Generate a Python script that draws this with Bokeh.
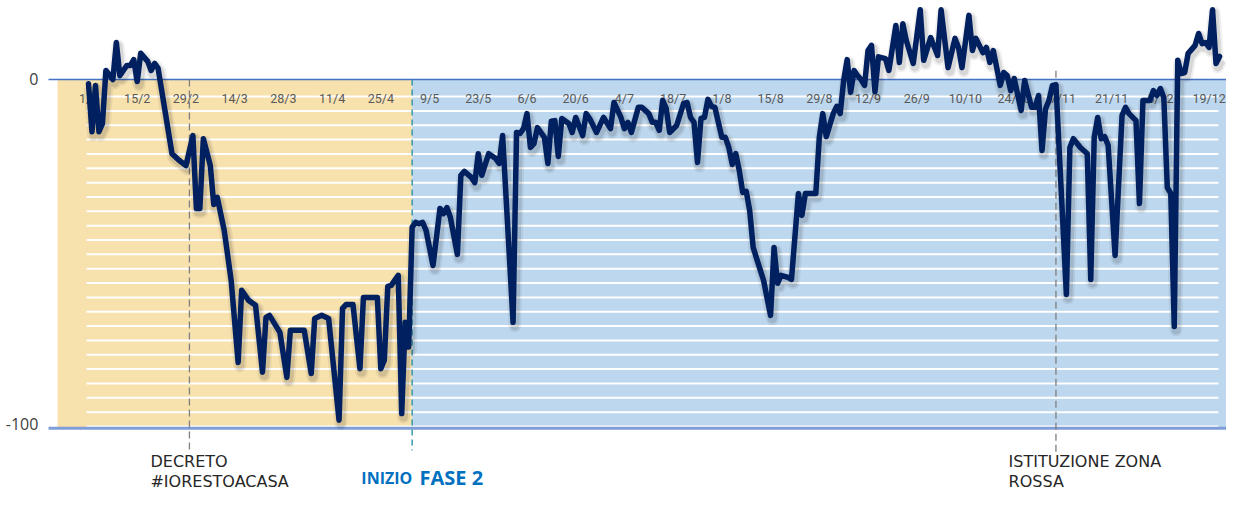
import datetime as dt
import numpy as np
from bokeh.plotting import figure
from bokeh.models import Range1d
from bokeh.core.properties import value
from bokeh.embed import file_html
from bokeh.resources import INLINE

# ---------------- data ----------------
start = dt.date(2020, 2, 1)
# day offsets from 1 Feb 2020
days = [0, 1, 2, 3, 4, 5, 7, 8, 9, 11, 12, 13, 14, 15, 17, 18, 19, 20, 24, 26, 28,
        30, 31, 32, 33, 35, 36, 37, 39, 41, 43, 44, 46, 48, 50, 51, 52, 55, 57, 58,
        62, 64, 65, 67, 69, 72, 73, 74, 76, 78, 79, 83, 84, 85, 86, 87, 89, 90, 91,
        92, 93, 94, 95, 96, 97, 99, 101, 102, 103, 104, 106, 107, 108, 110, 111, 112,
        113, 115, 117, 118, 119, 122, 123, 124, 125, 126, 127, 128, 129, 131, 132,
        133, 134, 135, 136, 138, 139, 140, 142, 143, 144, 146, 148, 150, 151, 153,
        154, 155, 156, 158, 159, 161, 162, 163, 164, 165, 166, 167, 169, 171, 172,
        173, 174, 175, 176, 177, 178, 179, 180, 182, 183, 184, 185, 186, 187, 188,
        189, 190, 191, 192, 194, 196, 197, 198, 199, 201, 202, 204, 205, 206, 209,
        210, 211, 212, 214, 215, 216, 217, 218, 219, 220, 221, 222, 223, 224, 225,
        226, 227, 229, 230, 232, 233, 234, 235, 237, 239, 240, 242, 244, 245, 247,
        249, 250, 251, 253, 254, 255, 257, 258, 259, 260, 262, 263, 264, 265, 266,
        268, 269, 271, 272, 273, 274, 275, 276, 277, 278, 281, 282, 283, 285, 287,
        288, 289, 290, 291, 292, 293, 295, 297, 298, 299, 301, 302, 303, 305, 306,
        307, 308, 309, 310, 311, 312, 313, 314, 315, 316, 318, 319, 320, 321, 322,
        323, 324, 325]
values = [-1.2, -15, -1.7, -15, -12.7, 2.6, 0, 10.6, 1.1, 4, 4, 5.7, -0.6, 7.5, 5.2, 2.6, 4.6, 3.2, -21.3, -23.2, -24.7,
          -16.1, -37, -37, -17, -24.7, -35.9, -33.8, -43.3, -57.7, -81.2, -60.5, -63.4, -64.8, -84, -68.3, -67.7, -72.6, -85.5, -72,
          -72, -84.4, -68.6, -67.7, -68.6, -97.8, -65.7, -64.6, -64.6, -83, -62.6, -62.6, -83, -80.6, -59.4, -59.1, -56.2, -95.9, -69.7,
          -76.8, -42.4, -41, -41.4, -41, -43.3, -53.4, -37, -38.5, -36.8, -39.6, -50.2, -27.5, -26.4, -28.1, -29.6, -21.3,
          -27.5, -21.3, -22.7, -24.1, -16.1, -69.7, -15.2, -15.5, -14.1, -9.8, -19.5, -18.4, -13.8, -16.6, -24.1,
          -12, -11.8, -22.1, -11.2, -12.6, -15.2, -10.9, -16.1, -9.8, -11.2, -15.2, -10.9, -14.1, -6.6, -10.9,
          -14.1, -12.3, -15.2, -8, -8, -9.8, -12.3, -12.3, -14.6, -6, -8.3, -15.2, -13.2, -6.9, -6.6,
          -10.9, -12.3, -23.8, -11.2, -10.9, -5.7, -7.7, -8, -16.6, -16.6, -19.5, -24.4, -21.3, -26.1, -32.4,
          -32.1, -37.6, -48.2, -51.4, -57.7, -67.7, -48.2, -58.5, -56.2, -56.8, -57.4, -32.7, -39, -32.7, -32.7,
          -16.6, -9.8, -16.4, -9.8, -7.7, -9.8, -0.3, 5.7, -3.7, 2.6, 1.1, 0, -1.7, 8.3, 9.8,
          -3.5, 6.5, 6, 2.6, 15.5, 4.9, 16, 11.2, 4.6, 20, 5.5, 12, 6.9, 20, 3.4,
          11.8, 9.2, 3.4, 18.4, 8.3, 11.8, 7.7, 9.2, 4.9, 8.3, -1.7, 2, 1.1, -3.2, 0.3,
          -8.9, -0.3, -8, -8, -4.6, -20.4, -8.5, -6, -1.7, -1.5, -61.7, -19.5, -17, -19.5, -21.3,
          -57.4, -16.6, -10.9, -17, -16.4, -18.9, -50.5, -10.3, -8, -9.8, -11.8, -35.6, -6, -6, -3.2,
          -4.6, -2.6, -5.2, -31, -32.7, -70.9, 5.5, 1.7, 2, 7.5, 9.8, 13.2, 10.3, 10.6, 9.2,
          20, 4.6, 6.6]

tick_labels = ["1/2", "15/2", "29/2", "14/3", "28/3", "11/4", "25/4", "9/5", "23/5",
               "6/6", "20/6", "4/7", "18/7", "1/8", "15/8", "29/8", "12/9", "26/9",
               "10/10", "24/10", "7/11", "21/11", "5/12", "19/12"]
y_labels = ["0", "-100"]
y_label_values = [0, -100]

event_dates = ["2020-03-01", "2020-05-04", "2020-11-05"]


def day_of(d):
    return (d - start).days


tick_days = [day_of(dt.date(2020, int(t.split("/")[1]), int(t.split("/")[0]))) for t in tick_labels]
ev = [day_of(dt.date.fromisoformat(s)) for s in event_dates]

# ---------------- figure ----------------
W, H = 1226, 493
x0, x1 = -25.29, 327.01
y0, y1 = -118.83, 22.67
p = figure(width=W, height=H, output_backend="svg", toolbar_location=None,
           x_range=Range1d(x0, x1), y_range=Range1d(y0, y1),
           x_axis_type=None, y_axis_type=None, min_border=0,
           outline_line_color=None, background_fill_color="white")
p.xgrid.visible = False
p.ygrid.visible = False

# background bands
p.quad(left=[-8.9], right=[ev[1]], top=[0], bottom=[-100], fill_color="#F7E1AD", line_color=None)
p.quad(left=[ev[1]], right=[x1 + 1], top=[0], bottom=[-100], fill_color="#BDD7EE", line_color=None)

# white horizontal stripes
gy = np.linspace(-4.9, -99.6, 24)
p.segment(x0=[-0.6] * len(gy), x1=[324.7] * len(gy), y0=gy, y1=gy, line_color="white", line_width=2)

# axis lines
p.segment(x0=[-11.5], x1=[x1 + 1], y0=[0], y1=[0], line_color="#4472C4", line_width=1.3)
p.segment(x0=[-11.5], x1=[x1 + 1], y0=[-100.1], y1=[-100.1], line_color="#7F9ED8", line_width=3)

# event dashed lines
p.segment(x0=[ev[0]], x1=[ev[0]], y0=[0], y1=[-106.5], line_color="#7F7F7F", line_width=1.3, line_dash="7 4")
p.segment(x0=[ev[1]], x1=[ev[1]], y0=[0], y1=[-106.5], line_color="#2A93A8", line_width=1.4, line_dash="6 4")
p.segment(x0=[ev[2]], x1=[ev[2]], y0=[2.5], y1=[-108], line_color="#7F7F7F", line_width=1.3, line_dash="7 4")

# tick labels inside the plot
p.text(x=tick_days, y=[-5.5] * len(tick_days), text=tick_labels, text_font=value("Roboto"),
       text_font_size="12.5px", text_color="#595959", text_align="center", text_baseline="middle")

# y labels
p.text(x=[-14.4] * 2, y=[0, -98.8], text=y_labels, text_font=value("Open Sans"),
       text_font_size="16px", text_color="#404040", text_align="right", text_baseline="middle")

# annotations
p.text(x=[ev[0] - 11.2] * 2, y=[-109.6, -115.4], text=["DECRETO", "#IORESTOACASA"],
       text_font=value("DejaVu Sans"), text_font_size="16px", text_color="#262626",
       text_align="left", text_baseline="middle")
p.text(x=[ev[2] - 13.6] * 2, y=[-109.6, -115.4], text=["ISTITUZIONE ZONA", "ROSSA"],
       text_font=value("DejaVu Sans"), text_font_size="16px", text_color="#262626",
       text_align="left", text_baseline="middle")
p.text(x=[ev[1] - 14.6], y=[-114.3], text=["INIZIO"], text_font=value("Open Sans"),
       text_font_size="16px", text_font_style="bold", text_color="#0070C0",
       text_align="left", text_baseline="alphabetic")
p.text(x=[ev[1] + 2.1], y=[-114.3], text=["FASE 2"], text_font=value("Open Sans"),
       text_font_size="20px", text_font_style="bold", text_color="#0070C0",
       text_align="left", text_baseline="alphabetic")

# line with soft shadow
sx = [d + 0.5 for d in days]
p.line(sx, [v - 1.0 for v in values], line_color="#000000", line_alpha=0.06, line_width=13, line_join="round")
p.line(sx, [v - 1.0 for v in values], line_color="#000000", line_alpha=0.10, line_width=9, line_join="round")
p.line(days, values, line_color="#002060", line_width=5.5, line_join="round", line_cap="round")

open("out.html", "w").write(file_html(p, INLINE))
